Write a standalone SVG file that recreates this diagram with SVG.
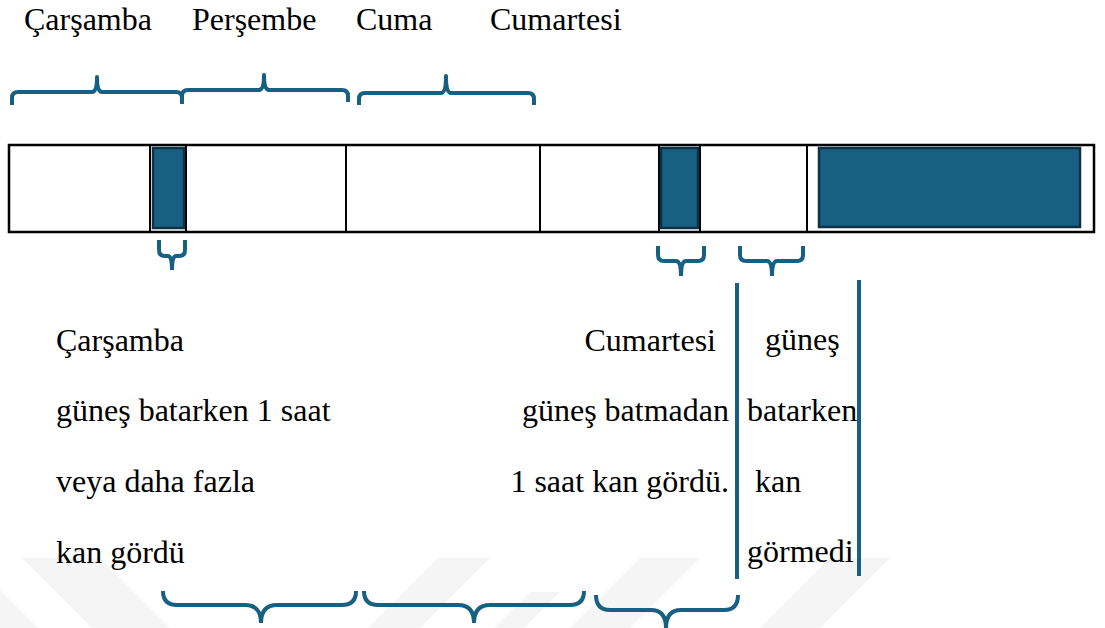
<svg xmlns="http://www.w3.org/2000/svg" width="1105" height="628" viewBox="0 0 1105 628">
  <style>
    .t { font-family: 'Liberation Serif', serif; font-size: 32px; fill: #000; }
    .brace { fill: none; stroke: #186082; stroke-width: 4; stroke-linecap: butt; stroke-linejoin: round; }
    .cell { fill: none; stroke: #000; stroke-width: 2.5; }
    .div { stroke: #000; stroke-width: 2; }
    .blk { fill: #186082; stroke: #0e3145; stroke-width: 2.5; }
    .vline { stroke: #186082; stroke-width: 4; }
    .wm { fill: #f5f5f5; }
  </style>
  <rect width="1105" height="628" fill="#fff"/>

  <g id="watermark">
    <polygon class="wm" points="22,558 100,558 170,628 92,628"/>
    <polygon class="wm" points="0,590 0,628 38,628"/>
    <polygon class="wm" points="438,558 490,558 420,628 368,628"/>
    <polygon class="wm" points="530,592 560,592 524,628 494,628"/>
    <polygon class="wm" points="640,558 700,558 630,628 570,628"/>
    <polygon class="wm" points="830,558 890,558 820,628 760,628"/>
  </g>

  <g id="top-labels" class="t" font-family="Liberation Serif, serif" font-size="32">
    <text x="24" y="30">Çarşamba</text>
    <text x="192" y="30">Perşembe</text>
    <text x="356" y="30">Cuma</text>
    <text x="490" y="30">Cumartesi</text>
  </g>

  <g id="timeline">
    <rect class="cell" x="9" y="145" width="1085" height="87"/>
    <line class="div" x1="150" y1="145" x2="150" y2="232"/>
    <line class="div" x1="186" y1="145" x2="186" y2="232"/>
    <line class="div" x1="346" y1="145" x2="346" y2="232"/>
    <line class="div" x1="540" y1="145" x2="540" y2="232"/>
    <line class="div" x1="659" y1="145" x2="659" y2="232"/>
    <line class="div" x1="700" y1="145" x2="700" y2="232"/>
    <line class="div" x1="807" y1="145" x2="807" y2="232"/>
  </g>
  <g id="blood-1"><rect class="blk" x="153" y="148" width="31" height="80"/></g>
  <g id="blood-2"><rect class="blk" x="661" y="148" width="37" height="80"/></g>
  <g id="blood-3"><rect class="blk" x="819" y="148" width="261" height="79"/></g>

  <g id="connectors">
    <path class="brace" d="M12,105 V98 Q12,92 18,92 H92 Q97,92 97,77 Q97,92 102,92 H176 Q182,92 182,98 V104"/>
    <path class="brace" d="M182,104 V96 Q182,90 188,90 H259 Q264,90 264,75 Q264,90 269,90 H342 Q348,90 348,96 V102"/>
    <path class="brace" d="M359,105 V99 Q359,93 365,93 H441 Q446,93 446,76 Q446,93 451,93 H528 Q534,93 534,99 V105"/>
    <path class="brace" d="M159,240 V250 Q159,256 165,256 H168 Q172,256 172,270 M185,240 V250 Q185,256 179,256 H176 Q172,256 172,270"/>
    <path class="brace" d="M658,246 V255 Q658,261 664,261 H676 Q681,261 681,276 M704,246 V255 Q704,261 698,261 H686 Q681,261 681,276"/>
    <path class="brace" d="M740,246 V255 Q740,261 746,261 H767 Q772,261 772,276 M803,246 V255 Q803,261 797,261 H777 Q772,261 772,276"/>
    <line class="vline" x1="737" y1="283" x2="737" y2="579"/>
    <line class="vline" x1="859" y1="280" x2="859" y2="576"/>
    <path class="brace" d="M163,591 Q163,605 177,605 H245 Q261,605 261,623 M356,591 Q356,605 342,605 H277 Q261,605 261,623"/>
    <path class="brace" d="M364,591 Q364,605 378,605 H458 Q474,605 474,623 M584,591 Q584,605 570,605 H490 Q474,605 474,623"/>
    <path class="brace" d="M596,595 Q596,610 610,610 H651 Q666,610 666,628 M738,595 Q738,610 724,610 H681 Q666,610 666,628"/>
  </g>

  <g id="left-text" class="t" font-family="Liberation Serif, serif" font-size="32">
    <text x="56" y="351">Çarşamba</text>
    <text x="56" y="421">güneş batarken 1 saat</text>
    <text x="56" y="492">veya daha fazla</text>
    <text x="56" y="563">kan gördü</text>
  </g>

  <g id="middle-text" class="t" font-family="Liberation Serif, serif" font-size="32">
    <text x="716" y="351" text-anchor="end">Cumartesi</text>
    <text x="729" y="421" text-anchor="end">güneş batmadan</text>
    <text x="729" y="492" text-anchor="end">1 saat kan gördü.</text>
  </g>

  <g id="right-text" class="t" font-family="Liberation Serif, serif" font-size="32">
    <text x="765" y="350">güneş</text>
    <text x="747" y="421">batarken</text>
    <text x="755" y="492">kan</text>
    <text x="747" y="562">görmedi</text>
  </g>
</svg>
